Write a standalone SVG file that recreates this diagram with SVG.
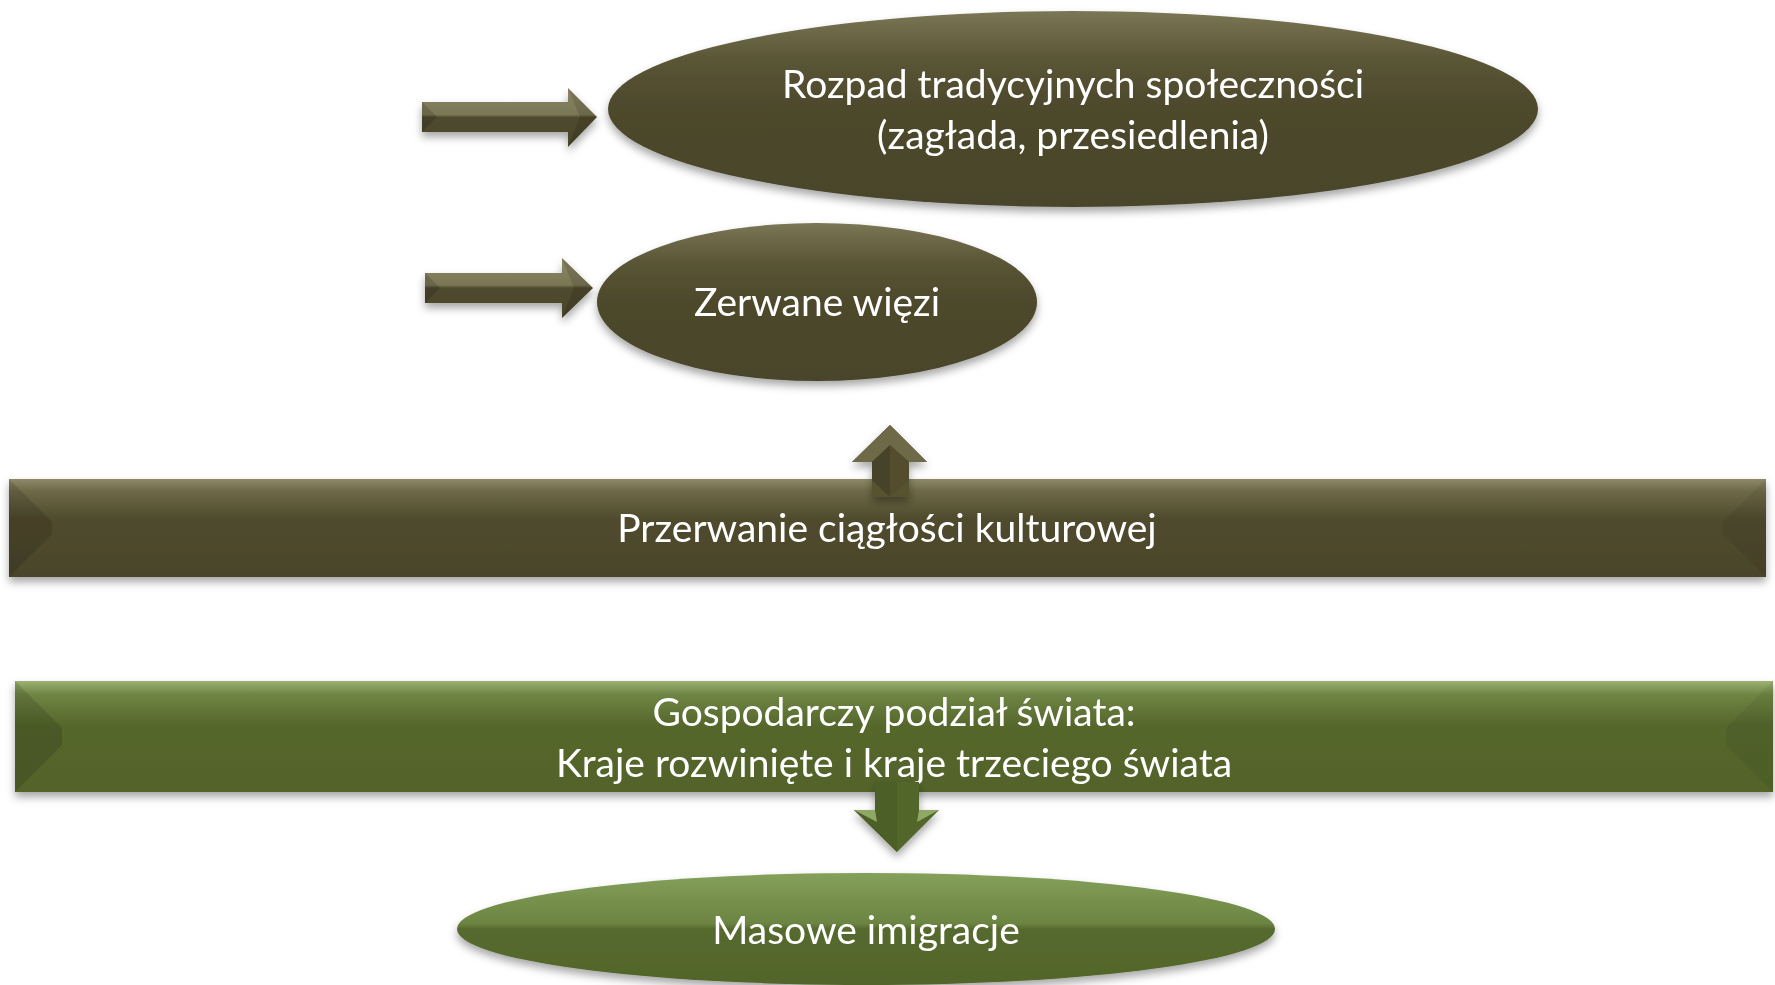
<svg xmlns="http://www.w3.org/2000/svg" width="1775" height="985" viewBox="0 0 1775 985">
<defs>
<filter id="sh" x="-10%" y="-20%" width="120%" height="150%">
<feDropShadow dx="0" dy="5" stdDeviation="4" flood-color="#000" flood-opacity="0.35"/>
</filter>
<linearGradient id="oliveV" x1="0" y1="0" x2="0" y2="1">
<stop offset="0" stop-color="#8e8a68"/>
<stop offset="0.12" stop-color="#6e6a48"/>
<stop offset="0.4" stop-color="#504b2e"/>
<stop offset="1" stop-color="#4a452a"/>
</linearGradient>
<linearGradient id="oliveE" x1="0" y1="0" x2="0" y2="1">
<stop offset="0" stop-color="#7a7655"/>
<stop offset="0.25" stop-color="#5a5536"/>
<stop offset="0.5" stop-color="#4d482c"/>
<stop offset="1" stop-color="#4a452a"/>
</linearGradient>
<linearGradient id="greenV" x1="0" y1="0" x2="0" y2="1">
<stop offset="0" stop-color="#9cb275"/>
<stop offset="0.12" stop-color="#6f8544"/>
<stop offset="0.4" stop-color="#55672c"/>
<stop offset="1" stop-color="#52632b"/>
</linearGradient>
<linearGradient id="greenE" x1="0" y1="0" x2="0" y2="1">
<stop offset="0" stop-color="#84a05a"/>
<stop offset="0.45" stop-color="#6c8442"/>
<stop offset="0.5" stop-color="#566a2e"/>
<stop offset="1" stop-color="#52652b"/>
</linearGradient>
<linearGradient id="arrowH" x1="0" y1="0" x2="0" y2="1">
<stop offset="0" stop-color="#8a8664"/>
<stop offset="0.45" stop-color="#7b7756"/>
<stop offset="0.5" stop-color="#4f4a2e"/>
<stop offset="1" stop-color="#4a452a"/>
</linearGradient>
</defs>
<style>
.t{font-family:Lato,"Open Sans","Liberation Sans",sans-serif;font-size:39px;fill:#ffffff;text-anchor:middle}
.bevL{fill:#000;opacity:0.12}
.bevR{fill:#000;opacity:0.06}
</style>

<g id="node-rozpad" filter="url(#sh)">
<ellipse cx="1073" cy="109" rx="465" ry="98" fill="url(#oliveE)"/>
<text class="t" x="1073" y="98">Rozpad tradycyjnych społeczności</text>
<text class="t" x="1073" y="149">(zagłada, przesiedlenia)</text>
</g>

<g id="node-zerwane" filter="url(#sh)">
<ellipse cx="817" cy="302" rx="220" ry="79" fill="url(#oliveE)"/>
<text class="t" x="817" y="316">Zerwane więzi</text>
</g>

<g id="node-przerwanie" filter="url(#sh)">
<rect x="9" y="479" width="1757" height="98" fill="url(#oliveV)"/>
<polygon class="bevL" points="9,479 52,522 52,534 9,577"/>
<polygon class="bevR" points="1766,479 1723,522 1723,534 1766,577"/>
<text class="t" x="887" y="542">Przerwanie ciągłości kulturowej</text>
</g>

<g id="node-gospodarczy" filter="url(#sh)">
<rect x="15" y="681" width="1758" height="111" fill="url(#greenV)"/>
<polygon class="bevL" points="15,681 62,728 62,745 15,792"/>
<polygon class="bevR" points="1773,681 1726,728 1726,745 1773,792"/>
<text class="t" x="894" y="726">Gospodarczy podział świata:</text>
<text class="t" x="894" y="777">Kraje rozwinięte i kraje trzeciego świata</text>
</g>

<g id="node-masowe" filter="url(#sh)">
<ellipse cx="866" cy="929" rx="409" ry="56" fill="url(#greenE)"/>
<text class="t" x="866" y="944">Masowe imigracje</text>
</g>

<g id="connectors">
<g filter="url(#sh)">
<polygon points="422,102 568,102 568,88 597,117 568,147 568,132 422,132" fill="url(#arrowH)"/>
<polygon points="422,102 437,117 422,132" fill="#000" opacity="0.15"/>
<polygon points="568,88 580,117 568,147 597,117" fill="#000" opacity="0.12"/>
</g>
<g filter="url(#sh)">
<polygon points="425,273 562,273 562,258 593,288 562,318 562,303 425,303" fill="url(#arrowH)"/>
<polygon points="425,273 440,288 425,303" fill="#000" opacity="0.15"/>
<polygon points="562,258 574,288 562,318 593,288" fill="#000" opacity="0.12"/>
</g>
<g filter="url(#sh)">
<polygon points="890,425 927,462 909,462 909,497 890,497 872,497 872,462 852,462" fill="#57522f"/>
<polygon points="890,425 927,462 909,462 890,445 872,462 852,462" fill="#6e6a47"/>
<polygon points="890,445 909,462 909,480 890,497" fill="#534e2f"/>
<polygon points="890,445 872,462 872,480 890,497" fill="#47422a"/>
</g>
<g filter="url(#sh)">
<polygon points="875,782 919,782 919,810 939,810 897,852 854,810 875,810" fill="#526629"/>
<polygon points="875,782 897,782 897,852 854,810 875,810" fill="#4c5f25"/>
<polygon points="854,810 875,810 877,822" fill="#8fa866"/>
<polygon points="939,810 919,810 917,822" fill="#8fa866"/>
</g>
</g>
</svg>
